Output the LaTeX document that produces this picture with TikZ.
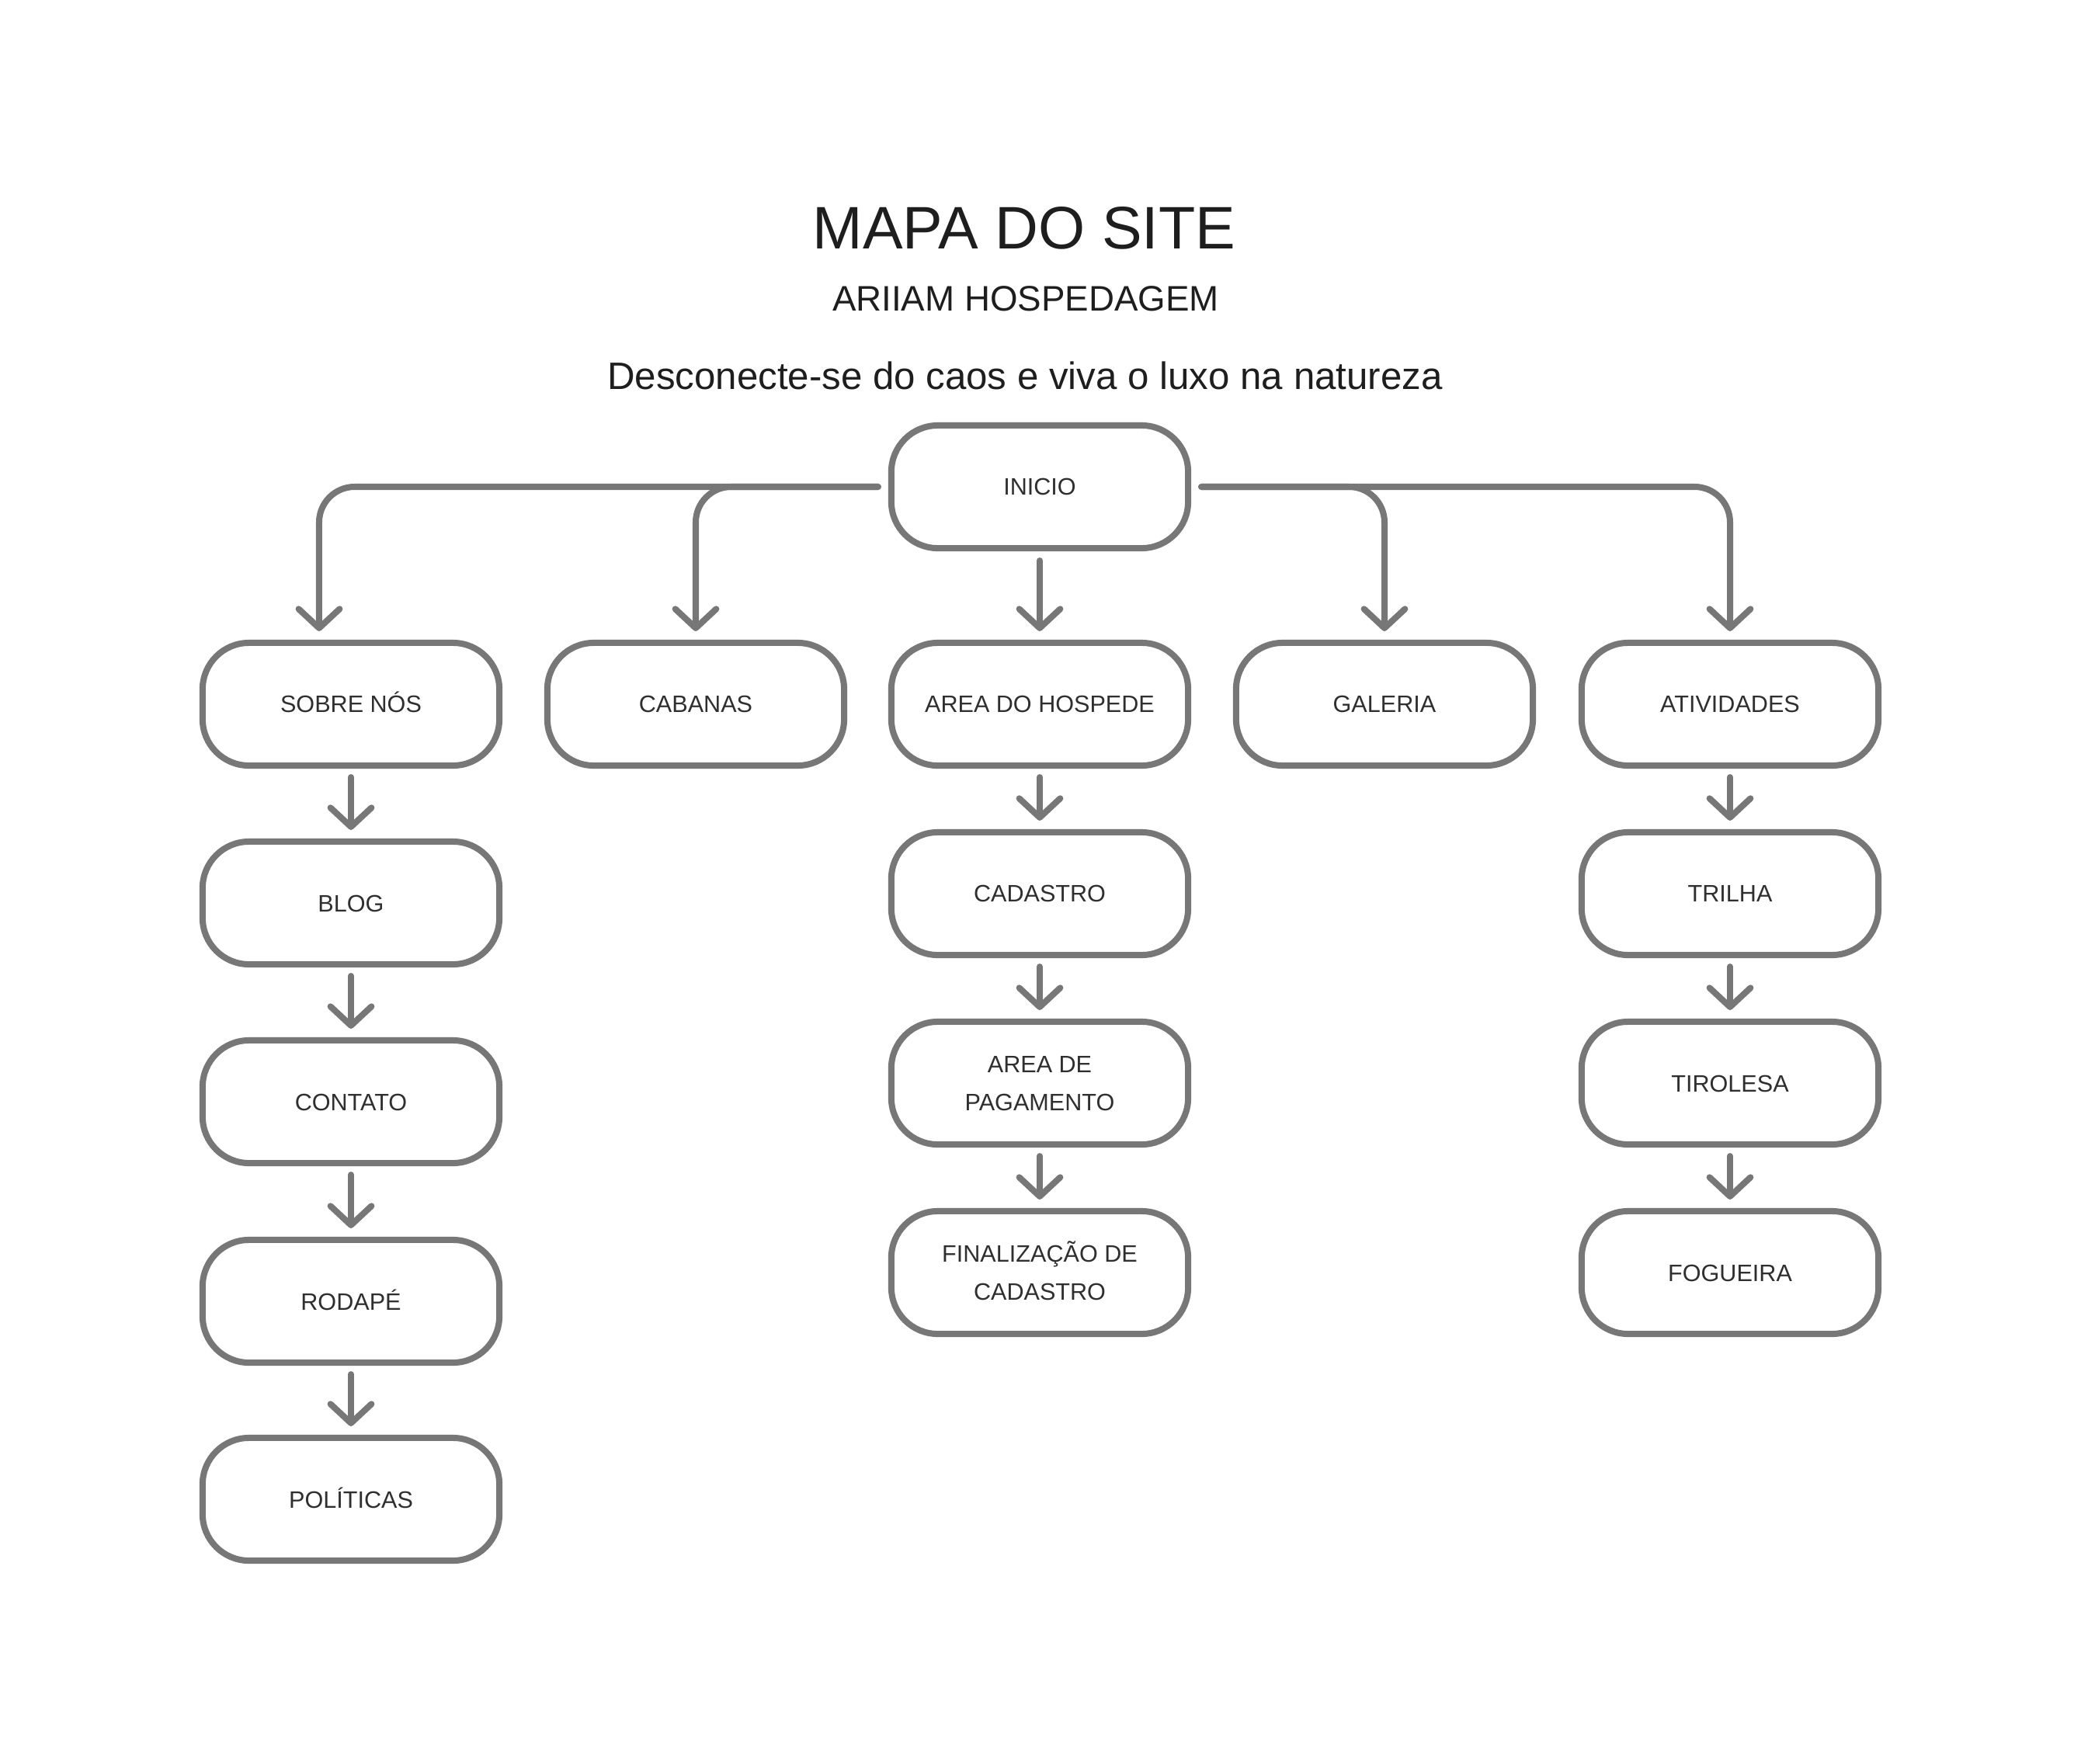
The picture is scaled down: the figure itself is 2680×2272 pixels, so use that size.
\documentclass[tikz,border=0pt]{standalone}
\usepackage{fontspec}
\setmainfont{Liberation Sans}
\usetikzlibrary{arrows.meta}
\definecolor{linegray}{HTML}{777777}
\definecolor{txt}{HTML}{2F2F2F}
\definecolor{ttl}{HTML}{1E1E1E}
\begin{document}
\begin{tikzpicture}[x=0.01cm,y=-0.01cm,
  pagebox/.style={draw=linegray, line width=2.28pt, rounded corners=17pt,
    minimum width=3.82cm, minimum height=1.58cm, inner sep=0pt, outer sep=0pt,
    align=center, text=txt, font=\fontsize{8.7pt}{13.7pt}\selectfont, fill=white,
    text height=6.25pt, text depth=0pt},
  twoline/.style={text height=19.95pt, text depth=0pt},
  conn/.style={draw=linegray, line width=2.28pt, line cap=round, line join=round,
    rounded corners=13pt, -{Straight Barb[length=7pt,width=15pt,round]}},
  ttext/.style={anchor=base, text=ttl, inner sep=0pt},
  ]
\useasboundingbox[fill=white] (0,0) rectangle (2680,2272);

% titles
\node[ttext, font=\fontsize{22pt}{26pt}\selectfont] (title) at (1319,320) {MAPA DO SITE};
\node[ttext, font=\fontsize{13pt}{16pt}\selectfont] (sub) at (1321,400) {ARIIAM HOSPEDAGEM};
\node[ttext, font=\fontsize{14pt}{17pt}\selectfont] (slogan) at (1320,501) {Desconecte-se do caos e viva o luxo na natureza};

% nodes
\node[pagebox] (inicio) at (1339,627) {INICIO};
\node[pagebox] (sobre) at (452,907) {SOBRE NÓS};
\node[pagebox] (cabanas) at (896,907) {CABANAS};
\node[pagebox] (area) at (1339,907) {AREA DO HOSPEDE};
\node[pagebox] (galeria) at (1783,907) {GALERIA};
\node[pagebox] (ativ) at (2228,907) {ATIVIDADES};

\node[pagebox] (blog) at (452,1163) {BLOG};
\node[pagebox] (contato) at (452,1419) {CONTATO};
\node[pagebox] (rodape) at (452,1676) {RODAPÉ};
\node[pagebox] (politicas) at (452,1931) {POLÍTICAS};

\node[pagebox] (cadastro) at (1339,1151) {CADASTRO};
\node[pagebox, twoline] (pagamento) at (1339,1395) {AREA DE\\PAGAMENTO};
\node[pagebox, twoline] (final) at (1339,1639) {FINALIZAÇÃO DE\\CADASTRO};

\node[pagebox] (trilha) at (2228,1151) {TRILHA};
\node[pagebox] (tirolesa) at (2228,1395) {TIROLESA};
\node[pagebox] (fogueira) at (2228,1639) {FOGUEIRA};

% top connectors
\draw[conn, shorten >=0.15cm] ([xshift=-0.17cm]inicio.west) -| ([xshift=-0.41cm]sobre.north);
\draw[conn, shorten >=0.15cm] ([xshift=-0.17cm]inicio.west) -| (cabanas.north);
\draw[conn, shorten >=0.15cm] ([xshift=0.17cm]inicio.east) -| (galeria.north);
\draw[conn, shorten >=0.15cm] ([xshift=0.17cm]inicio.east) -| (ativ.north);
\draw[conn, shorten <=0.16cm, shorten >=0.15cm] (inicio) -- (area);

% column connectors
\foreach \a/\b in {sobre/blog, blog/contato, contato/rodape, rodape/politicas,
                   area/cadastro, cadastro/pagamento, pagamento/final,
                   ativ/trilha, trilha/tirolesa, tirolesa/fogueira}
  \draw[conn, shorten <=0.15cm, shorten >=0.15cm] (\a) -- (\b);
\end{tikzpicture}
\end{document}
